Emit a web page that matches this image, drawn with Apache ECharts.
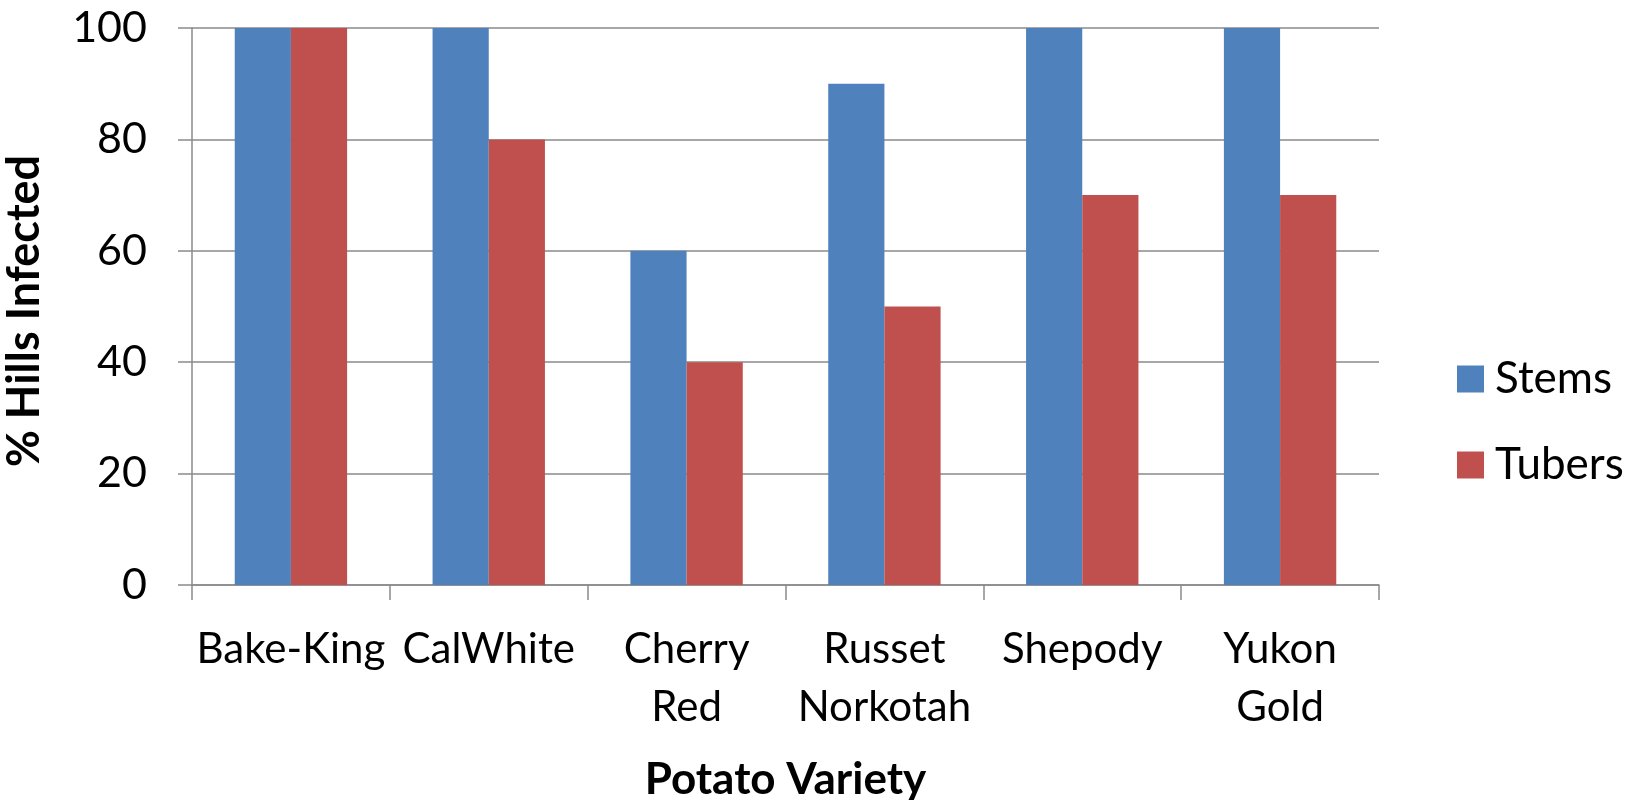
<!DOCTYPE html>
<html>
<head>
<meta charset="utf-8">
<title>% Hills Infected by Potato Variety</title>
<script src="https://cdn.jsdelivr.net/npm/echarts@6/dist/echarts.min.js"></script>
<style>
  html, body { margin: 0; padding: 0; background: #ffffff; }
  #chart { width: 1640px; height: 800px; }
</style>
</head>
<body>
<div id="chart"></div>
<script>
// Potato varieties (x categories) and infection percentages per plant part
const varieties = ['Bake-King', 'CalWhite', 'Cherry\nRed', 'Russet\nNorkotah', 'Shepody', 'Yukon\nGold'];
const stems = [100, 100, 60, 90, 100, 100];
const tubers = [100, 80, 40, 50, 70, 70];
const seriesNames = ['Stems', 'Tubers'];
const yTicks = { min: 0, max: 100, interval: 20 };

const FONT = 'Lato, "Open Sans", sans-serif';
const GRID_GREY = '#8a8a8a';

const chart = echarts.init(document.getElementById('chart'), null, { renderer: 'canvas' });

chart.setOption({
  backgroundColor: '#ffffff',
  animation: false,
  textStyle: { fontFamily: FONT, color: '#000000' },
  grid: { left: 192, right: 261, top: 28, bottom: 215, containLabel: false, outerBoundsMode: 'none' },
  legend: {
    orient: 'vertical',
    left: 1457,
    top: 356,
    padding: 0,
    itemWidth: 27,
    itemHeight: 27,
    itemGap: 40,
    icon: 'rect',
    data: seriesNames,
    textStyle: { fontFamily: FONT, fontSize: 44, color: '#000000', lineHeight: 46, padding: [0, 0, 0, 6] }
  },
  xAxis: {
    type: 'category',
    data: varieties,
    name: 'Potato Variety',
    nameLocation: 'middle',
    nameGap: 173,
    nameTextStyle: { fontFamily: FONT, fontSize: 44, fontWeight: 'bold', color: '#000000' },
    axisLine: { show: true, lineStyle: { color: GRID_GREY, width: 1.5 } },
    axisTick: { show: true, length: 15, lineStyle: { color: GRID_GREY, width: 1.5 } },
    axisLabel: {
      interval: 0,
      margin: 35,
      fontFamily: FONT,
      fontSize: 42,
      lineHeight: 58,
      color: '#000000',
      align: 'center'
    }
  },
  yAxis: {
    type: 'value',
    min: yTicks.min,
    max: yTicks.max,
    interval: yTicks.interval,
    name: '% Hills Infected',
    nameLocation: 'middle',
    nameRotate: 90,
    nameGap: 145,
    nameTextStyle: { fontFamily: FONT, fontSize: 45, fontWeight: 'bold', color: '#000000', padding: [0, 9, 0, 0] },
    axisLine: { show: true, lineStyle: { color: GRID_GREY, width: 1.5 } },
    axisTick: { show: true, length: 14, lineStyle: { color: GRID_GREY, width: 1.5 } },
    axisLabel: { margin: 45, fontFamily: FONT, fontSize: 43, color: '#000000' },
    splitLine: { show: true, lineStyle: { color: GRID_GREY, width: 1.5 } }
  },
  series: [
    {
      name: seriesNames[0],
      type: 'bar',
      data: stems,
      barWidth: '28.4%',
      barGap: '0%',
      itemStyle: { color: '#4f81bd' }
    },
    {
      name: seriesNames[1],
      type: 'bar',
      data: tubers,
      barWidth: '28.4%',
      barGap: '0%',
      itemStyle: { color: '#c0504d' }
    }
  ]
});
</script>
</body>
</html>
